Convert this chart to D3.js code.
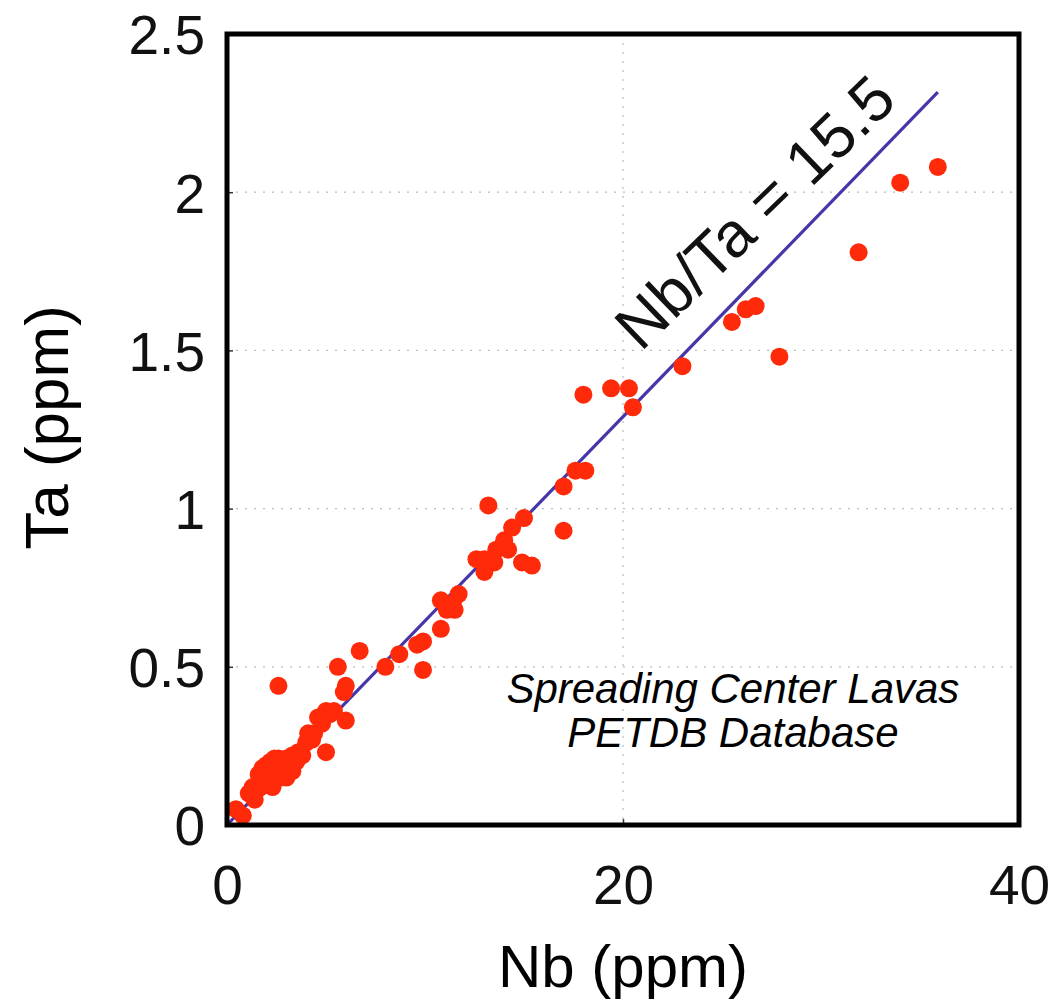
<!DOCTYPE html>
<html>
<head>
<meta charset="utf-8">
<script src="https://cdn.jsdelivr.net/npm/d3@7"></script>
<style>
  body { margin: 0; background: white; }
  svg text { font-family: "Liberation Sans", Arial, Helvetica, sans-serif; }
</style>
</head>
<body>
<svg id="chart" width="1059" height="1000"></svg>
<script>
// Nb and Ta concentrations (ppm)
const nb = [
  35.9, 34.0, 31.9, 27.9, 26.7, 26.2, 25.5, 23.0, 20.5, 20.3, 19.4, 18.0,
  18.1, 17.6, 17.0, 17.0, 15.4, 14.9, 15.0, 14.4, 13.2, 13.6, 14.2, 14.0,
  13.0, 13.0, 12.6, 13.5, 11.7, 11.4, 10.8, 11.1, 10.8, 11.5, 9.9, 9.6,
  9.9, 8.7, 8.0, 6.7, 5.6, 6.0, 5.9, 6.0, 5.0, 2.6,
  0.45, 0.8, 1.1, 1.3, 1.5, 1.6, 1.7, 1.8, 1.9, 2.0, 2.1, 2.2, 2.3, 2.4,
  2.5, 2.6, 2.7, 2.8, 2.9, 3.0, 3.1, 3.2, 3.3, 3.5, 3.6, 3.8, 4.0, 4.1,
  4.3, 4.4, 4.6, 4.8, 5.0, 5.2, 5.4, 2.3, 3.0, 3.3, 1.4, 2.0
];
const ta = [
  2.08, 2.03, 1.81, 1.48, 1.64, 1.63, 1.59, 1.45, 1.32, 1.38, 1.38, 1.36,
  1.12, 1.12, 1.07, 0.93, 0.82, 0.83, 0.97, 0.94, 1.01, 0.87, 0.87, 0.90,
  0.84, 0.80, 0.84, 0.83, 0.73, 0.70, 0.71, 0.68, 0.62, 0.68, 0.58, 0.57,
  0.49, 0.54, 0.50, 0.55, 0.50, 0.44, 0.42, 0.33, 0.23, 0.44,
  0.05, 0.03, 0.10, 0.12, 0.11, 0.16, 0.12, 0.18, 0.15, 0.19, 0.17, 0.20,
  0.18, 0.21, 0.16, 0.21, 0.15, 0.20, 0.18, 0.21, 0.17, 0.20, 0.22, 0.20,
  0.23, 0.22, 0.26, 0.29, 0.27, 0.29, 0.34, 0.32, 0.36, 0.35, 0.36, 0.12,
  0.15, 0.17, 0.08, 0.14
];
const ratio = 15.5;
const xTicks = [0, 20, 40];
const yTicks = [0, 0.5, 1, 1.5, 2, 2.5];
const yTickLabels = ["0", "0.5", "1", "1.5", "2", "2.5"];

const margin = {top: 34, right: 40, bottom: 175, left: 227};
const width = 1059 - margin.left - margin.right,
      height = 1000 - margin.top - margin.bottom;

const svg = d3.select("#chart")
  .append("g")
  .attr("transform", `translate(${margin.left},${margin.top})`);

const x = d3.scaleLinear().domain([0, 40]).range([0, width]);
const y = d3.scaleLinear().domain([0, 2.5]).range([height, 0]);

// dotted grid
svg.append("g")
  .selectAll("line")
  .data(yTicks.filter(d => d > 0 && d < 2.5))
  .join("line")
  .attr("x1", 0).attr("x2", width)
  .attr("y1", d => y(d)).attr("y2", d => y(d))
  .attr("stroke", "#bbb").attr("stroke-width", 1.2)
  .attr("stroke-dasharray", "2,7");
svg.append("g")
  .selectAll("line")
  .data(xTicks.filter(d => d > 0 && d < 40))
  .join("line")
  .attr("x1", d => x(d)).attr("x2", d => x(d))
  .attr("y1", 0).attr("y2", height)
  .attr("stroke", "#bbb").attr("stroke-width", 1.2)
  .attr("stroke-dasharray", "2,7");

// axes with inward ticks
const xAxis = svg.append("g")
  .attr("transform", `translate(0,${height})`)
  .call(d3.axisBottom(x).tickValues(xTicks).tickSize(-6).tickPadding(40).tickFormat(d3.format("d")));
const yAxis = svg.append("g")
  .call(d3.axisLeft(y).tickValues(yTicks).tickSize(-6).tickPadding(22).tickFormat((d, i) => yTickLabels[i]));
[xAxis, yAxis].forEach(a => {
  a.select(".domain").remove();
  a.selectAll("line").attr("stroke", "#333").attr("stroke-width", 1.5);
  a.selectAll("text").style("font-size", "55px").attr("fill", "#111");
});
yAxis.selectAll("text").attr("dy", "0.36em");

// ratio line
svg.append("line")
  .attr("x1", x(0)).attr("y1", y(0))
  .attr("x2", x(35.9)).attr("y2", y(35.9 / ratio))
  .attr("stroke", "#4636a8").attr("stroke-width", 3.2);

// points
const points = nb.map((d, i) => ({nb: d, ta: ta[i]}));
svg.append("g")
  .selectAll("circle")
  .data(points)
  .join("circle")
  .attr("cx", d => x(d.nb))
  .attr("cy", d => y(d.ta))
  .attr("r", 9)
  .attr("fill", "#ff2a0a");

// frame
svg.append("rect")
  .attr("x", 0).attr("y", 0)
  .attr("width", width).attr("height", height)
  .attr("fill", "none").attr("stroke", "black").attr("stroke-width", 5);

// line label
svg.append("text")
  .attr("transform", `translate(${x(20.9)},${y(1.50) + 2}) rotate(-44)`)
  .style("font-size", "63px")
  .attr("fill", "#111")
  .text("Nb/Ta = 15.5");

// annotation
svg.append("text")
  .attr("x", x(25.55)).attr("y", y(0.385))
  .attr("text-anchor", "middle")
  .style("font-size", "42px").style("font-style", "italic")
  .text("Spreading Center Lavas");
svg.append("text")
  .attr("x", x(25.55)).attr("y", y(0.245))
  .attr("text-anchor", "middle")
  .style("font-size", "42px").style("font-style", "italic")
  .text("PETDB Database");

// axis titles
svg.append("text")
  .attr("x", width / 2).attr("y", height + 162)
  .attr("text-anchor", "middle")
  .style("font-size", "60px")
  .text("Nb (ppm)");
svg.append("text")
  .attr("transform", `translate(${-159},${y(1.25) - 2}) rotate(-90)`)
  .attr("text-anchor", "middle")
  .style("font-size", "62px")
  .text("Ta (ppm)");
</script>
</body>
</html>
